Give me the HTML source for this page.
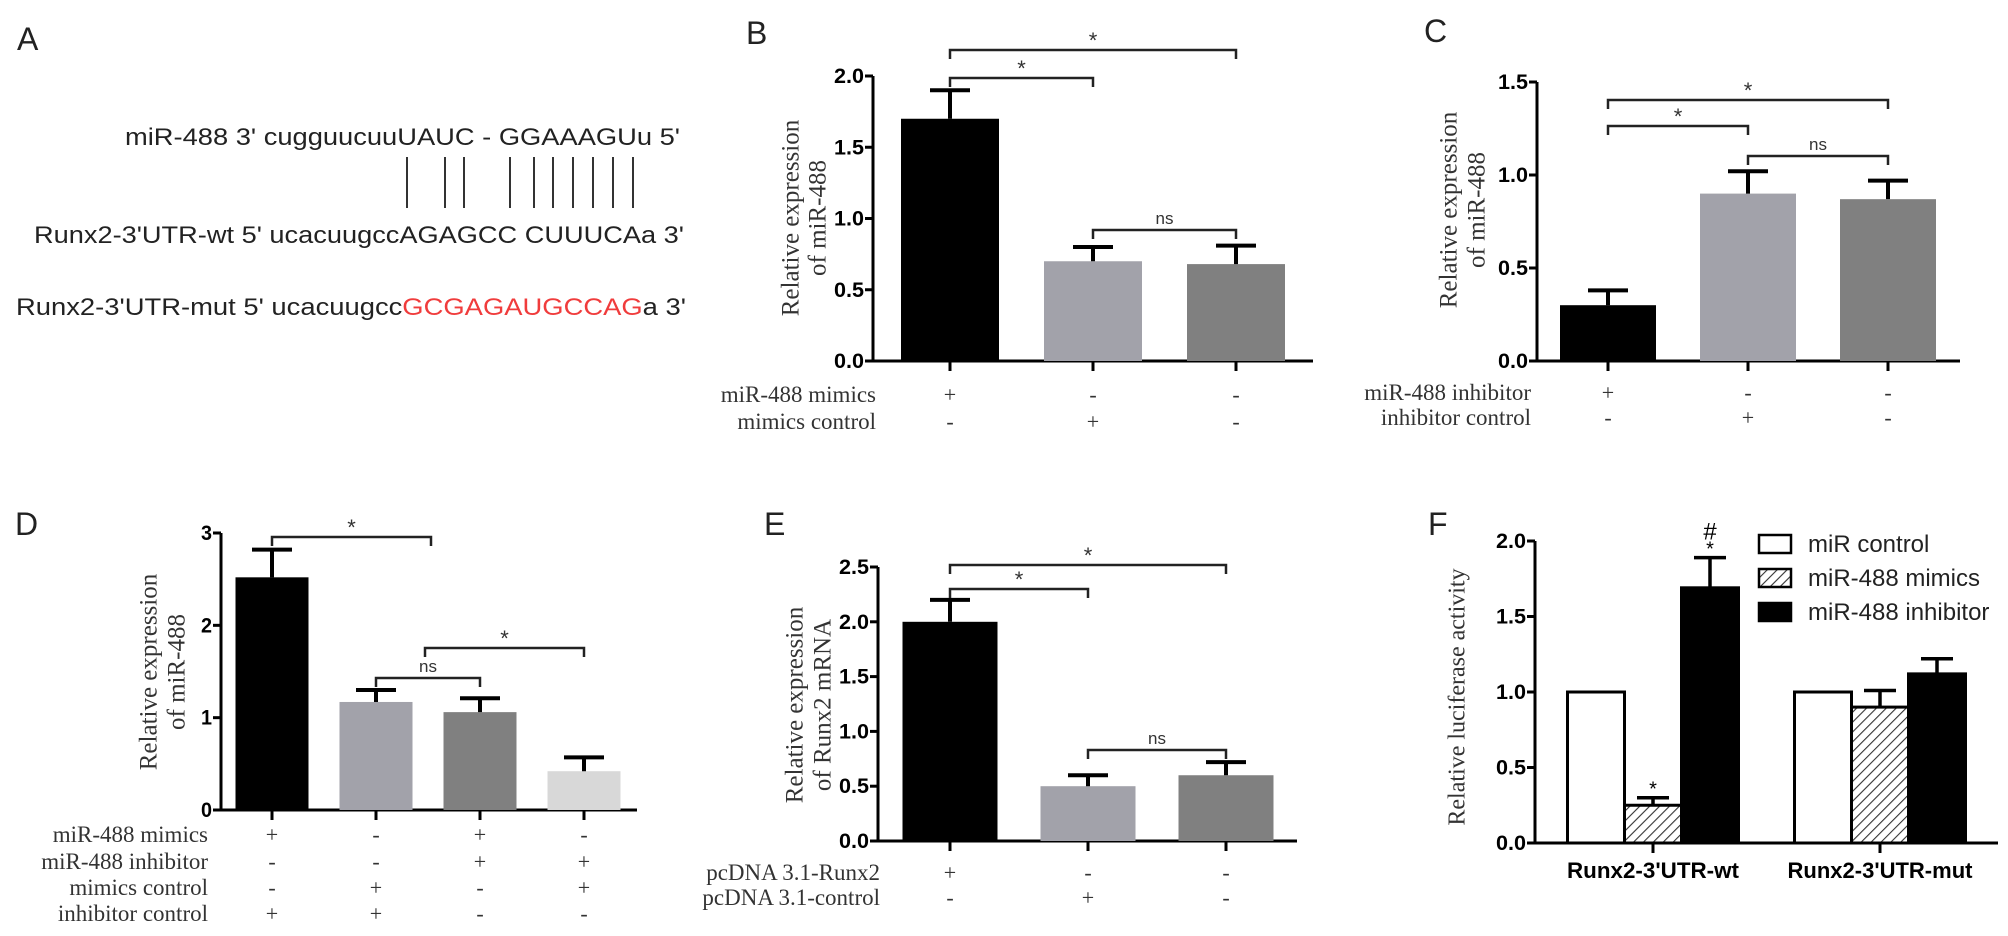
<!DOCTYPE html>
<html><head><meta charset="utf-8"><style>
html,body{margin:0;padding:0;background:#fff;}
svg{display:block;}
</style></head><body>
<svg id="fig" width="2008" height="936" viewBox="0 0 2008 936" xmlns="http://www.w3.org/2000/svg">
<g font-family="Liberation Sans, Arial, sans-serif" fill="#222">
  <text x="17" y="50" font-size="32">A</text>
  <text x="125" y="145" font-size="24" textLength="555" lengthAdjust="spacingAndGlyphs">miR-488 3' cugguucuuUAUC - GGAAAGUu 5'</text>
  <g stroke="#333" stroke-width="2">
    <line x1="407" y1="157" x2="407" y2="208"/><line x1="445" y1="157" x2="445" y2="208"/><line x1="464" y1="157" x2="464" y2="208"/>
    <line x1="510" y1="157" x2="510" y2="208"/><line x1="534" y1="157" x2="534" y2="208"/><line x1="553" y1="157" x2="553" y2="208"/>
    <line x1="573" y1="157" x2="573" y2="208"/><line x1="593" y1="157" x2="593" y2="208"/><line x1="613" y1="157" x2="613" y2="208"/>
    <line x1="633" y1="157" x2="633" y2="208"/>
  </g>
  <text x="34" y="243" font-size="24" textLength="650" lengthAdjust="spacingAndGlyphs">Runx2-3'UTR-wt 5' ucacuugccAGAGCC CUUUCAa 3'</text>
  <text x="16" y="315" font-size="24" textLength="670" lengthAdjust="spacingAndGlyphs">Runx2-3'UTR-mut 5' ucacuugcc<tspan fill="#f03c3c">GCGAGAUGCCAG</tspan>a 3'</text>
</g>
</svg>
<script>
// Panel B data
const bCategories = ["miR-488 mimics", "mimics control", "blank"];
const bValues = [1.7, 0.7, 0.68];
const bErrors = [0.2, 0.1, 0.13];
const bTicks = ["0.0", "0.5", "1.0", "1.5", "2.0"];
// Panel C data
const cCategories = ["miR-488 inhibitor", "inhibitor control", "blank"];
const cValues = [0.3, 0.9, 0.87];
const cErrors = [0.08, 0.12, 0.1];
const cTicks = ["0.0", "0.5", "1.0", "1.5"];
// Panel D data
const dCategories = ["mimics+inh ctrl", "mimics ctrl+inh ctrl", "mimics+inhibitor", "inhibitor+mimics ctrl"];
const dValues = [2.52, 1.17, 1.06, 0.42];
const dErrors = [0.3, 0.13, 0.15, 0.15];
const dTicks = ["0", "1", "2", "3"];
// Panel E data
const eCategories = ["pcDNA 3.1-Runx2", "pcDNA 3.1-control", "blank"];
const eValues = [2.0, 0.5, 0.6];
const eErrors = [0.2, 0.1, 0.12];
const eTicks = ["0.0", "0.5", "1.0", "1.5", "2.0", "2.5"];
// Panel F data
const fGroups = ["Runx2-3'UTR-wt", "Runx2-3'UTR-mut"];
const fSeries = ["miR control", "miR-488 mimics", "miR-488 inhibitor"];
const fControl = [1.0, 1.0];
const fMimics = [0.25, 0.9];
const fInhibitor = [1.69, 1.12];
const fMimicsErr = [0.05, 0.11];
const fInhibitorErr = [0.2, 0.1];
const fTicks = ["0.0", "0.5", "1.0", "1.5", "2.0"];

const NS = "http://www.w3.org/2000/svg";
const svg = document.getElementById("fig");
function el(tag, attrs, parent, text) {
  const e = document.createElementNS(NS, tag);
  for (const k in attrs) e.setAttribute(k, attrs[k]);
  if (text !== undefined) e.textContent = text;
  (parent || svg).appendChild(e);
  return e;
}
const defs = el("defs", {});
const pat = el("pattern", {id: "hatch", width: "7", height: "7", patternUnits: "userSpaceOnUse", patternTransform: "rotate(45)"}, defs);
el("rect", {width: "7", height: "7", fill: "#fff"}, pat);
el("line", {x1: "0", y1: "0", x2: "0", y2: "7", stroke: "#333", "stroke-width": "2.2"}, pat);

function makeAxis(p, g, ticks, maxV) {
  const y = v => p.y0 - (v / maxV) * (p.y0 - p.yTop);
  const axis = el("g", {}, g);
  
  
  el("line", {x1: p.ax, y1: p.yTop, x2: p.ax, y2: p.y0 + 1.5, stroke: "#000", "stroke-width": "3"}, axis);
  el("line", {x1: p.ax - 1.5, y1: p.y0, x2: p.xEnd, y2: p.y0, stroke: "#000", "stroke-width": "3"}, axis);
  ticks.forEach(t => {
    const v = parseFloat(t);
    el("line", {x1: p.ax - 8, y1: y(v), x2: p.ax, y2: y(v), stroke: "#000", "stroke-width": "3"}, axis);
    const tl = el("text", {x: p.ax - 9, y: y(v) + 7, "text-anchor": "end", "font-size": p.tickFs || 21, "font-weight": "bold", "font-family": "Liberation Sans, Arial, sans-serif", textLength: p.tickW || (t.length > 1 ? 30 : 11), lengthAdjust: "spacingAndGlyphs"}, axis, t);
    
    
  });
  return y;
}
function yTitle(g, x1, x2, cy, lines, fs) {
  lines.forEach((s, i) => {
    const x = i === 0 ? x1 : x2;
    const t = el("text", {x: x, y: cy, "text-anchor": "middle", "font-size": fs || 25, "font-family": "Liberation Serif, Times New Roman, serif", fill: "#333", transform: "rotate(-90 " + x + " " + cy + ")", "dominant-baseline": "middle"}, g, s);
    
    
  });
}
function bracket(g, xa, xb, yy, label, isNs) {
  const b = el("g", {}, g);
  
  
  el("path", {d: "M" + xa + " " + (yy + 9) + " V" + yy + " H" + xb + " V" + (yy + 9), fill: "none", stroke: "#222", "stroke-width": "2.5"}, b);
  el("text", {x: (xa + xb) / 2, y: isNs ? yy - 6 : yy - 2, "text-anchor": "middle", "font-size": isNs ? 17 : 22, "font-family": "Liberation Sans, Arial, sans-serif", fill: "#333"}, b, label);
}
function condRows(g, p, names, signs, rowYs, centers) {
  names.forEach((n, r) => {
    const t = el("text", {x: p.condX, y: rowYs[r] + 7, "text-anchor": "end", "font-size": 23, "font-family": "Liberation Serif, Times New Roman, serif", fill: "#333"}, g, n);
    
    
    signs[r].forEach((s, i) => {
      const st = el("text", {x: centers[i], y: rowYs[r] + 7, "text-anchor": "middle", "font-size": 22, "font-family": "Liberation Serif, Times New Roman, serif", fill: "#333"}, g, s);
      
      
    });
  });
}
function barPanel(name, p, cats, vals, errs, ticks, colors) {
  const g = el("g", {});
  
  
  const lab = el("text", {x: p.lx, y: p.ly, "font-size": 32, "font-family": "Liberation Sans, Arial, sans-serif", fill: "#222"}, g, p.letter);
  
  
  const maxV = parseFloat(ticks[ticks.length - 1]);
  const y = makeAxis(p, g, ticks, maxV);
  const xc = i => p.c0 + i * p.step;
  const centers = [];
  cats.forEach((c, i) => {
    const cx = xc(i); centers.push(cx);
    const bar = el("rect", {x: cx - p.bw / 2, y: y(vals[i]), width: p.bw, height: p.y0 - y(vals[i]), fill: colors[i]}, g);
    
    
    const eb = el("path", {d: "M" + cx + " " + y(vals[i]) + " V" + y(vals[i] + errs[i]) + " M" + (cx - 20) + " " + y(vals[i] + errs[i]) + " H" + (cx + 20), stroke: "#000", "stroke-width": "4", fill: "none"}, g);
    
    
    el("line", {x1: cx, y1: p.y0, x2: cx, y2: p.y0 + 10, stroke: "#000", "stroke-width": "3"}, g);
  });
  return {g, y, centers};
}

// B
(function () {
  const p = {letter: "B", lx: 746, ly: 44, ax: 873, yTop: 76, y0: 361, xEnd: 1313, c0: 950, step: 143, bw: 98, condX: 876};
  const r = barPanel("panel-b-chart", p, bCategories, bValues, bErrors, bTicks, ["#000", "#a2a2aa", "#808080"]);
  yTitle(r.g, 793, 820, 218, ["Relative expression", "of miR-488"]);
  bracket(r.g, r.centers[0], r.centers[2], 50, "*");
  bracket(r.g, r.centers[0], r.centers[1], 78, "*");
  bracket(r.g, r.centers[1], r.centers[2], 230, "ns", true);
  condRows(r.g, p, ["miR-488 mimics", "mimics control"], [["+", "-", "-"], ["-", "+", "-"]], [395, 422], r.centers);
})();
// C
(function () {
  const p = {letter: "C", lx: 1424, ly: 42, ax: 1537, yTop: 82, y0: 361, xEnd: 1960, c0: 1608, step: 140, bw: 96, condX: 1531};
  const r = barPanel("panel-c-chart", p, cCategories, cValues, cErrors, cTicks, ["#000", "#a2a2aa", "#808080"]);
  yTitle(r.g, 1451, 1479, 210, ["Relative expression", "of miR-488"]);
  bracket(r.g, r.centers[0], r.centers[2], 100, "*");
  bracket(r.g, r.centers[0], r.centers[1], 126, "*");
  bracket(r.g, r.centers[1], r.centers[2], 156, "ns", true);
  condRows(r.g, p, ["miR-488 inhibitor", "inhibitor control"], [["+", "-", "-"], ["-", "+", "-"]], [393, 418], r.centers);
})();
// D
(function () {
  const p = {letter: "D", lx: 15, ly: 535, ax: 221, yTop: 533, y0: 810, xEnd: 637, c0: 272, step: 104, bw: 73, condX: 208, tickW: 11};
  const r = barPanel("panel-d-chart", p, dCategories, dValues, dErrors, dTicks, ["#000", "#a2a2aa", "#808080", "#d8d8d8"]);
  yTitle(r.g, 151, 179, 672, ["Relative expression", "of miR-488"]);
  bracket(r.g, r.centers[0], 431, 537, "*");
  bracket(r.g, 425, r.centers[3], 648, "*");
  bracket(r.g, r.centers[1], r.centers[2], 678, "ns", true);
  condRows(r.g, p, ["miR-488 mimics", "miR-488 inhibitor", "mimics control", "inhibitor control"],
    [["+", "-", "+", "-"], ["-", "-", "+", "+"], ["-", "+", "-", "+"], ["+", "+", "-", "-"]], [835, 862, 888, 914], r.centers);
})();
// E
(function () {
  const p = {letter: "E", lx: 764, ly: 535, ax: 878, yTop: 567, y0: 841, xEnd: 1297, c0: 950, step: 138, bw: 95, condX: 880};
  const r = barPanel("panel-e-chart", p, eCategories, eValues, eErrors, eTicks, ["#000", "#a2a2aa", "#808080"]);
  yTitle(r.g, 797, 825, 705, ["Relative expression", "of Runx2 mRNA"]);
  bracket(r.g, r.centers[0], r.centers[2], 565, "*");
  bracket(r.g, r.centers[0], r.centers[1], 589, "*");
  bracket(r.g, r.centers[1], r.centers[2], 750, "ns", true);
  condRows(r.g, p, ["pcDNA 3.1-Runx2", "pcDNA 3.1-control"], [["+", "-", "-"], ["-", "+", "-"]], [873, 898], r.centers);
})();
// F
(function () {
  const g = el("g", {});
  
  
  const lab = el("text", {x: 1428, y: 535, "font-size": 32, "font-family": "Liberation Sans, Arial, sans-serif", fill: "#222"}, g, "F");
  
  
  const p = {ax: 1535, yTop: 541, y0: 843, xEnd: 1998};
  const y = makeAxis(p, g, fTicks, 2.0);
  yTitle(g, 1459, 1459, 697, ["Relative luciferase activity"], 24);
  const gc = [1653, 1880], bw = 57;
  const series = [fControl, fMimics, fInhibitor];
  const errs = [null, fMimicsErr, fInhibitorErr];
  const fills = ["#fff", "url(#hatch)", "#000"];
  fGroups.forEach((grp, gi) => {
    series.forEach((s, si) => {
      const x = gc[gi] + (si - 1.5) * bw;
      const bar = el("rect", {x: x, y: y(s[gi]), width: bw, height: p.y0 - y(s[gi]), fill: fills[si], stroke: "#000", "stroke-width": "3"}, g);
      
      
      if (errs[si]) {
        const cx = x + bw / 2, top = y(s[gi] + errs[si][gi]);
        const eb = el("path", {d: "M" + cx + " " + y(s[gi]) + " V" + top + " M" + (cx - 16) + " " + top + " H" + (cx + 16), stroke: "#000", "stroke-width": "3.5", fill: "none"}, g);
        
        
      }
    });
    el("line", {x1: gc[gi], y1: p.y0, x2: gc[gi], y2: p.y0 + 10, stroke: "#000", "stroke-width": "3"}, g);
    const gl = el("text", {x: gc[gi], y: 878, "text-anchor": "middle", "font-size": 22, "font-weight": "bold", "font-family": "Liberation Sans, Arial, sans-serif", textLength: gi ? 185 : 172, lengthAdjust: "spacingAndGlyphs"}, g, grp);
    
    
  });
  const s1 = el("text", {x: gc[0], y: y(fMimics[0] + fMimicsErr[0]) - 2, "text-anchor": "middle", "font-size": 20, "font-family": "Liberation Sans, Arial, sans-serif"}, g, "*");
  
  
  const cxI = gc[0] + 0.5 * bw + bw / 2;
  const s2 = el("text", {x: cxI, y: y(fInhibitor[0] + fInhibitorErr[0]) - 2, "text-anchor": "middle", "font-size": 20, "font-family": "Liberation Sans, Arial, sans-serif"}, g, "*");
  
  
  const s3 = el("text", {x: cxI, y: y(fInhibitor[0] + fInhibitorErr[0]) - 18, "text-anchor": "middle", "font-size": 24, "font-family": "Liberation Sans, Arial, sans-serif"}, g, "#");
  
  
  const legend = el("g", {}, g);
  
  
  const ly = [544, 578, 612];
  fSeries.forEach((s, i) => {
    const entry = el("g", {}, legend);
    
    
    el("rect", {x: 1759, y: ly[i] - 9, width: 32, height: 18, fill: fills[i], stroke: "#000", "stroke-width": "2.5"}, entry);
    el("text", {x: 1808, y: ly[i] + 8, "font-size": 24, "font-family": "Liberation Sans, Arial, sans-serif", fill: "#222"}, entry, s);
  });
})();
</script>
</body></html>
